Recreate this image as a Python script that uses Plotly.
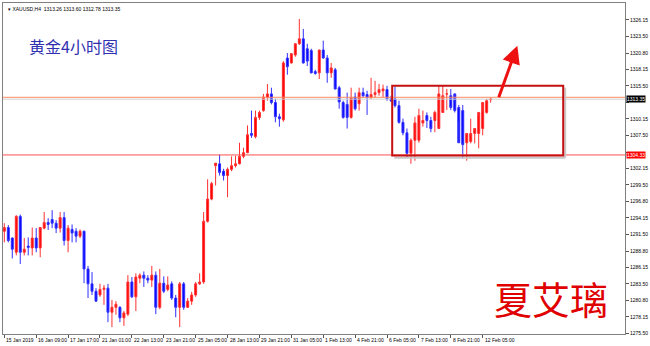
import plotly.graph_objects as go

# ---------------- data (XAUUSD H4) ----------------
opens = [1292.0,1292.6,1290.9,1288.6,1294.4,1288.6,1289.6,1289.3,1290.9,1289.3,
         1292.5,1293.4,1293.9,1293.3,1292.5,1294.2,1290.5,1292.3,1292.0,1291.2,
         1292.0,1285.9,1283.5,1282.3,1281.7,1282.6,1282.8,1278.9,1279.7,1279.7,
         1278.0,1278.6,1283.8,1281.4,1284.4,1284.9,1284.4,1284.1,1284.9,1279.7,
         1283.6,1282.6,1283.5,1281.2,1279.7,1283.5,1279.7,1280.7,1281.7,1283.5,
         1283.8,1293.6,1297.2,1302.6,1302.9,1301.7,1301.0,1302.0,1302.6,1302.9,
         1304.1,1304.7,1307.8,1307.3,1310.4,1311.5,1313.6,1314.2,1312.8,1310.5,
         1310.0,1320.0,1319.2,1320.5,1322.3,1323.1,1321.5,1321.2,1317.8,1317.6,
         1321.3,1320.0,1317.6,1318.1,1315.2,1312.8,1312.5,1310.4,1313.7,1312.6,
         1314.4,1314.1,1313.6,1314.1,1314.4,1314.7,1314.9,1313.4,1313.4,1312.3,
         1309.6,1307.9,1304.6,1306.7,1306.7,1309.5,1310.7,1309.9,1309.9,1308.6,
         1311.2,1314.2,1313.9,1314.2,1312.0,1311.5,1306.3,1306.5,1307.8,1307.8,
         1308.6,1311.2,1313.26]
highs = [1293.3,1293.0,1291.0,1294.6,1294.7,1290.9,1291.0,1292.6,1292.5,1292.6,
         1295.1,1294.1,1295.4,1293.8,1295.1,1295.1,1293.0,1293.1,1292.5,1292.3,
         1292.1,1286.4,1285.4,1282.8,1283.5,1283.3,1283.5,1280.9,1280.7,1279.9,
         1279.1,1284.9,1284.6,1285.2,1285.2,1285.5,1284.9,1286.4,1285.5,1285.9,
         1284.7,1284.7,1283.9,1281.7,1283.8,1283.8,1281.2,1282.2,1283.8,1285.2,
         1295.1,1300.4,1300.0,1303.0,1304.4,1302.1,1302.3,1304.1,1304.2,1306.3,
         1305.5,1309.1,1311.5,1311.5,1311.5,1314.2,1315.8,1315.2,1313.4,1311.0,
         1319.5,1320.8,1320.8,1322.4,1326.3,1324.7,1322.3,1321.5,1318.1,1321.3,
         1322.8,1320.5,1319.2,1318.4,1315.5,1313.1,1314.4,1315.2,1314.4,1315.2,
         1315.2,1314.7,1316.8,1316.3,1315.8,1315.7,1315.5,1313.9,1315.4,1313.1,
         1310.2,1308.6,1307.0,1310.5,1311.8,1311.5,1311.2,1310.5,1311.5,1315.5,
         1315.5,1315.0,1315.0,1313.0,1312.4,1312.4,1307.8,1310.2,1308.3,1310.6,
         1311.4,1313.4,1313.60]
lows = [1290.2,1290.2,1287.6,1288.1,1286.7,1288.1,1288.1,1288.1,1288.6,1287.8,
        1292.3,1292.2,1292.5,1291.7,1291.8,1289.7,1288.6,1290.2,1290.2,1290.9,
        1283.6,1281.2,1281.7,1280.6,1281.4,1280.1,1277.3,1276.5,1278.5,1277.3,
        1276.7,1278.3,1281.2,1279.1,1283.6,1283.0,1283.6,1283.0,1278.6,1279.4,
        1282.0,1282.3,1280.9,1278.1,1276.5,1279.3,1279.6,1280.1,1281.4,1283.3,
        1283.5,1293.4,1297.0,1299.4,1301.0,1300.2,1297.5,1301.7,1302.3,1302.8,
        1303.8,1304.6,1307.1,1307.0,1310.0,1311.3,1313.1,1312.5,1309.6,1308.9,
        1309.7,1317.3,1319.1,1320.2,1322.1,1319.1,1318.7,1317.5,1317.3,1316.6,
        1319.9,1316.0,1316.8,1314.9,1311.8,1310.2,1308.6,1310.2,1311.5,1311.5,
        1313.6,1310.8,1313.4,1313.6,1313.9,1313.7,1313.1,1312.9,1312.0,1309.4,
        1307.5,1303.9,1302.9,1303.4,1306.3,1308.9,1308.7,1308.0,1308.0,1308.9,
        1313.0,1311.6,1311.6,1311.2,1309.7,1303.7,1303.4,1306.2,1306.2,1305.4,
        1307.5,1311.0,1312.78]
closes = [1292.6,1290.5,1289.1,1294.4,1288.6,1289.1,1289.4,1290.9,1289.3,1292.6,
          1293.4,1293.1,1293.3,1292.5,1294.2,1290.5,1292.5,1291.7,1291.2,1292.0,
          1285.9,1283.5,1282.3,1280.7,1282.6,1282.8,1278.9,1279.7,1280.2,1278.0,
          1278.8,1283.8,1281.4,1284.6,1284.9,1284.4,1284.1,1284.9,1279.7,1283.6,
          1282.3,1283.3,1281.2,1279.7,1283.5,1279.7,1280.7,1281.7,1283.5,1283.8,
          1293.6,1297.2,1299.7,1303.0,1301.5,1301.0,1302.0,1302.6,1302.9,1304.1,
          1304.7,1307.6,1307.5,1310.4,1311.2,1313.7,1314.2,1312.8,1310.5,1310.2,
          1319.2,1318.6,1320.7,1322.3,1323.1,1319.2,1319.5,1317.6,1317.5,1321.3,
          1320.0,1317.6,1318.4,1315.0,1312.9,1310.4,1310.4,1313.6,1311.8,1314.4,
          1313.9,1313.6,1314.1,1314.4,1314.9,1315.0,1313.4,1313.1,1312.3,1309.6,
          1307.9,1304.6,1306.7,1309.5,1310.7,1309.9,1309.9,1308.6,1311.2,1314.2,
          1313.9,1314.2,1312.0,1311.5,1306.3,1306.0,1307.8,1307.8,1308.6,1311.2,
          1312.8,1313.1,1313.35]

x_labels = ["15 Jan 2019", "16 Jan 09:00", "17 Jan 17:00", "21 Jan 01:00",
            "22 Jan 13:00", "23 Jan 21:00", "25 Jan 05:00", "28 Jan 13:00",
            "29 Jan 21:00", "31 Jan 05:00", "1 Feb 13:00", "4 Feb 21:00",
            "6 Feb 05:00", "7 Feb 13:00", "8 Feb 21:00", "12 Feb 05:00"]
bars_per_label = 8

y_ticks = [1326.15, 1323.50, 1320.80, 1318.15, 1315.50, 1312.80, 1310.15,
           1307.50, 1304.80, 1302.15, 1299.50, 1296.80, 1294.15, 1291.50,
           1288.80, 1286.15, 1283.50, 1280.80, 1278.15, 1275.50]

bid_price = 1313.35
resistance = 1313.65
support = 1304.33
box_lo, box_hi = 1304.23, 1315.51
box_x0, box_x1 = 97.3, 140.2
arrow_tail = (123.9, 1313.4)
arrow_tip = (128.7, 1322.0)

# ---------------- figure ----------------
idx = list(range(len(opens)))
fig = go.Figure()
fig.add_trace(go.Candlestick(
    x=idx, open=opens, high=highs, low=lows, close=closes,
    increasing=dict(line=dict(color="#ff3030", width=1), fillcolor="#ff0000"),
    decreasing=dict(line=dict(color="#3030ff", width=1), fillcolor="#0000ff"),
    whiskerwidth=0, showlegend=False, hoverinfo="skip"))

PLOT_L, PLOT_R = -0.33, 155.7
YMIN, YMAX = 1275.39, 1328.89

# tick labels hidden behind the price-line labels on the axis (as in MT4)
def tick_text(v):
    if abs(v - bid_price) < 1.0 or abs(v - support) < 1.0:
        return ""
    return f"{v:.2f}"

fig.update_layout(
    width=650, height=346,
    margin=dict(l=2, r=24, t=2, b=12),
    paper_bgcolor="white", plot_bgcolor="white",
    xaxis=dict(range=[PLOT_L, PLOT_R], rangeslider=dict(visible=False),
               showgrid=False, zeroline=False,
               tickvals=[k * bars_per_label for k in range(len(x_labels))],
               ticktext=[""] * len(x_labels), ticks="outside", ticklen=3,
               tickcolor="#555", showline=True, linecolor="#808080",
               linewidth=1, mirror=True, fixedrange=True),
    yaxis=dict(range=[YMIN, YMAX], side="right", showgrid=False, zeroline=False,
               tickvals=y_ticks, ticktext=[tick_text(v) for v in y_ticks],
               ticks="outside", ticklen=3, tickcolor="#555",
               tickfont=dict(family="Liberation Sans", size=5, color="#000"),
               showline=True, linecolor="#808080", linewidth=1, mirror=True,
               fixedrange=True),
    font=dict(family="Liberation Sans", size=5, color="#000"),
)

# x labels (left-aligned at tick, MT4 style)
for k, lab in enumerate(x_labels):
    fig.add_annotation(x=k * bars_per_label, y=0, xref="x", yref="paper",
                       text=lab, showarrow=False, xanchor="left", yanchor="top",
                       xshift=0, yshift=-1,
                       font=dict(family="Liberation Sans", size=5, color="#000"))

# horizontal lines
fig.add_shape(type="line", xref="paper", x0=0, x1=1, y0=bid_price, y1=bid_price,
              line=dict(color="#d0d0d0", width=1))
fig.add_shape(type="line", xref="paper", x0=0, x1=1, y0=resistance, y1=resistance,
              line=dict(color="#ff8c60", width=1))
fig.add_shape(type="line", xref="paper", x0=0, x1=1, y0=support, y1=support,
              line=dict(color="#ff5050", width=1))

# box with shadow
fig.add_shape(type="line", x0=box_x1 + 0.5, x1=box_x1 + 0.5, y0=box_hi - 0.3, y1=box_lo - 0.35,
              line=dict(color="#c8c8c8", width=2))
fig.add_shape(type="line", x0=box_x0 + 0.5, x1=box_x1 + 0.5, y0=box_lo - 0.35, y1=box_lo - 0.35,
              line=dict(color="#c8c8c8", width=2))
fig.add_shape(type="rect", x0=box_x0, x1=box_x1, y0=box_lo, y1=box_hi,
              line=dict(color="#c41010", width=2))

# arrow
fig.add_annotation(x=arrow_tip[0], y=arrow_tip[1], ax=arrow_tail[0], ay=arrow_tail[1],
                   xref="x", yref="y", axref="x", ayref="y", text="",
                   showarrow=True, arrowhead=2, arrowsize=1.2, arrowwidth=3,
                   arrowcolor="#ee1111")

# price labels on axis
fig.add_annotation(x=1, y=bid_price, xref="paper", yref="y", text=f"{bid_price:.2f}",
                   showarrow=False, xanchor="left", xshift=1, bgcolor="#000000",
                   font=dict(family="Liberation Sans", size=5, color="#fff"),
                   borderpad=0)
fig.add_annotation(x=1, y=support, xref="paper", yref="y", text=f"{support:.2f}",
                   showarrow=False, xanchor="left", xshift=1, bgcolor="#ff0000",
                   font=dict(family="Liberation Sans", size=5, color="#fff"),
                   borderpad=0)

# header
fig.add_annotation(x=0, y=1, xref="paper", yref="paper",
                   text="▾ XAUUSD,H4  1313.26 1313.60 1312.78 1313.35",
                   showarrow=False, xanchor="left", yanchor="top", xshift=3, yshift=-1,
                   font=dict(family="Liberation Sans", size=5, color="#000"))
fig.add_annotation(x=26, y=45, xref="paper", yref="paper", text="黄金4小时图",
                   showarrow=False, xanchor="left", yanchor="middle",
                   font=dict(family="Noto Sans CJK SC", size=16, color="#3030b0"))
fig.add_annotation(x=552, y=297, xref="paper", yref="paper", text="夏艾璃",
                   showarrow=False, xanchor="center", yanchor="middle",
                   font=dict(family="Noto Sans CJK SC", size=38, color="#e00000"))

# convert pixel-positioned paper annotations
W, H = 650, 346
L, R, T, B = 2, 24, 2, 12
pw, ph = W - L - R, H - T - B
for a in fig.layout.annotations:
    if a.text in ("黄金4小时图", "夏艾璃"):
        px, py = a.x, a.y
        a.x = (px - L) / pw
        a.y = 1 - (py - T) / ph

fig.write_html("out.html")
